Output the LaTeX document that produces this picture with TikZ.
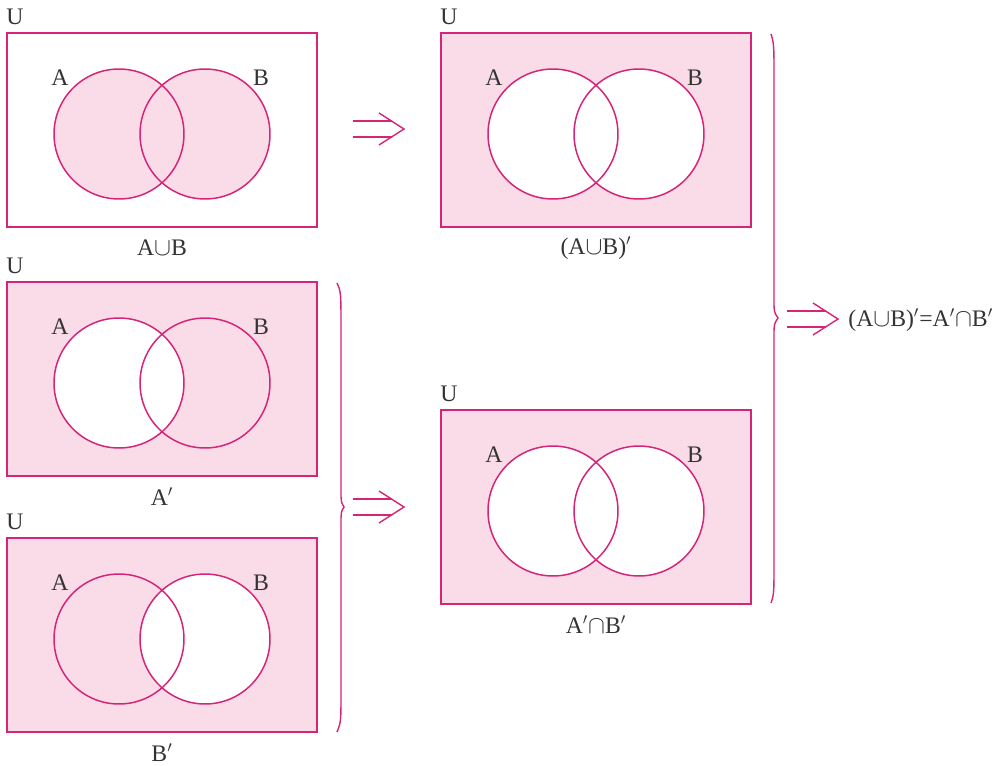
\documentclass[tikz,border=0pt]{standalone}
\usepackage{fontspec}
\setmainfont{Liberation Serif}
\usepackage{tikz}
\usetikzlibrary{positioning,calc}
\definecolor{vpink}{RGB}{214,36,120}
\definecolor{vfill}{RGB}{249,220,232}
\definecolor{vtext}{RGB}{51,51,51}

\tikzset{
  setbox/.style={draw=vpink, line width=1.15pt},
  setcircle/.style={draw=vpink, line width=0.85pt},
  setfill/.style={fill=vfill},
  setline/.style={draw=vpink, line width=0.8pt},
  lbl/.style={text=vtext, font=\fontsize{13.5}{15}\selectfont, inner sep=0pt},
}

% one Venn diagram: #1 name, #2 shift, #3 shading, #4 caption
\newcommand{\venndiag}[4]{%
  \begin{scope}[shift={#2}]
    \coordinate (#1ca) at (119,134);
    \coordinate (#1cb) at (205,134);
    #3
    \draw[setcircle] (#1ca) circle[radius=1.3cm];
    \draw[setcircle] (#1cb) circle[radius=1.3cm];
    \draw[setbox] (7,33) rectangle (317,227);
    \node[lbl] (#1U) at (15,17) {U};
    \node[lbl] (#1A) at (60,78) {A};
    \node[lbl] (#1B) at (261,78) {B};
    \node[lbl] (#1cap) at (162,248) {#4};
  \end{scope}}

% double arrow from #1 to #2
\newcommand{\implarrow}[2]{%
  \draw[setline] ($(#1)+(0,-8)$) -- ($(#2)+(-12.5,-8)$);
  \draw[setline] ($(#1)+(0,8)$) -- ($(#2)+(-12.5,8)$);
  \draw[setline] ($(#2)+(-25,-16)$) -- (#2) -- ($(#2)+(-25,16)$);}

\begin{document}
\begin{tikzpicture}[x=0.02cm, y=-0.02cm]
  \useasboundingbox (0,0) rectangle (1001,765);

  % A union B
  \venndiag{un}{(0,0)}{%
    \fill[setfill] (unca) circle[radius=1.3cm];
    \fill[setfill] (uncb) circle[radius=1.3cm];}{A$\cup$B}
  % (A union B)'
  \venndiag{uc}{(434,0)}{%
    \fill[setfill] (7,33) rectangle (317,227);
    \fill[white] (ucca) circle[radius=1.3cm];
    \fill[white] (uccb) circle[radius=1.3cm];}{(A$\cup$B)$'$}
  % A'
  \venndiag{na}{(0,249)}{%
    \fill[setfill] (7,33) rectangle (317,227);
    \fill[white] (naca) circle[radius=1.3cm];}{A$'$}
  % B'
  \venndiag{nb}{(0,505)}{%
    \fill[setfill] (7,33) rectangle (317,227);
    \fill[white] (nbcb) circle[radius=1.3cm];}{B$'$}
  % A' cap B'
  \venndiag{ic}{(434,377)}{%
    \fill[setfill] (7,33) rectangle (317,227);
    \fill[white] (icca) circle[radius=1.3cm];
    \fill[white] (iccb) circle[radius=1.3cm];}{A$'\cap$B$'$}

  % arrows
  \coordinate (arr1s) at (353,129);
  \coordinate (arr1e) at (404,129);
  \coordinate (arr2s) at (353,507);
  \coordinate (arr2e) at (404,507);
  \coordinate (arr3s) at (787,319);
  \coordinate (arr3e) at (838,319);
  \implarrow{arr1s}{arr1e}
  \implarrow{arr2s}{arr2e}
  \implarrow{arr3s}{arr3e}

  % braces
  \draw[setline] (337,283) .. controls (341,292) .. (341,330) -- (341,490)
    .. controls (341,502) .. (344,507) .. controls (341,512) .. (341,524)
    -- (341,690) .. controls (341,722) .. (337,732);
  \draw[setline] (771,34) .. controls (774,44) .. (774,80) -- (774,300)
    .. controls (774,312) .. (778,318) .. controls (774,324) .. (774,336)
    -- (774,560) .. controls (774,594) .. (771,603);

  % result
  \node[lbl, anchor=west] (result) at (848,320) {(A$\cup$B)$'$=A$'\cap$B$'$};
\end{tikzpicture}
\end{document}
